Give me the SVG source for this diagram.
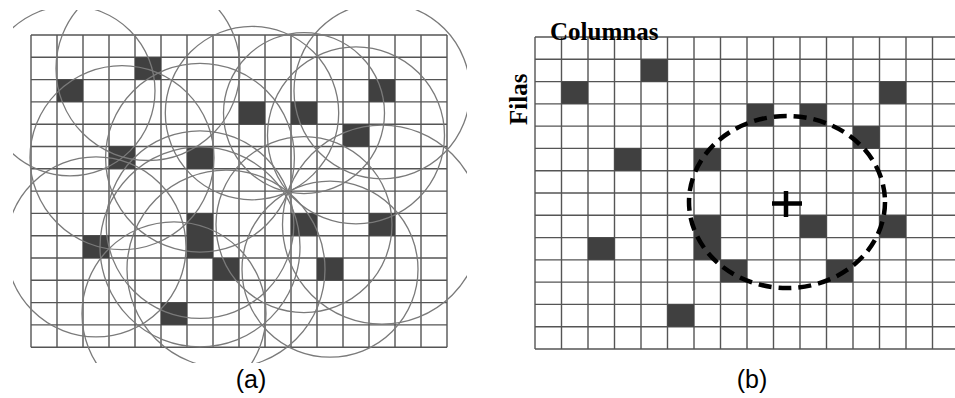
<svg xmlns="http://www.w3.org/2000/svg" width="955" height="398" viewBox="0 0 955 398">
<style>
.grid{fill:none;stroke:#555;stroke-width:1.4}
.cell{fill:#404040}
.circ{fill:none;stroke:#7a7a7a;stroke-width:1.3}
.lbl{font-family:"Liberation Sans",Arial,sans-serif;font-size:25px;fill:#000}
.axis{font-family:"Liberation Serif","Times New Roman",serif;font-weight:bold;font-size:25px;fill:#000}
</style>
<defs>
<clipPath id="clipA"><rect x="13" y="10" width="454" height="353"/></clipPath>
</defs>
<rect width="955" height="398" fill="#fff"/>

<g id="panel-a">
<g id="grid-a">
<path class="grid" d="M31 35V347.2M57 35V347.2M83 35V347.2M109 35V347.2M135 35V347.2M161 35V347.2M187 35V347.2M213 35V347.2M239 35V347.2M265 35V347.2M291 35V347.2M317 35V347.2M343 35V347.2M369 35V347.2M395 35V347.2M421 35V347.2M447 35V347.2"/>
<path class="grid" d="M31 35H447M31 57.3H447M31 79.6H447M31 101.9H447M31 124.2H447M31 146.5H447M31 168.8H447M31 191.1H447M31 213.4H447M31 235.7H447M31 258H447M31 280.3H447M31 302.6H447M31 324.9H447M31 347.2H447"/>
</g>
<g id="cells-a">
<rect class="cell" x="135" y="57.3" width="26" height="22.3"/>
<rect class="cell" x="57" y="79.6" width="26" height="22.3"/>
<rect class="cell" x="369" y="79.6" width="26" height="22.3"/>
<rect class="cell" x="239" y="101.9" width="26" height="22.3"/>
<rect class="cell" x="291" y="101.9" width="26" height="22.3"/>
<rect class="cell" x="343" y="124.2" width="26" height="22.3"/>
<rect class="cell" x="109" y="146.5" width="26" height="22.3"/>
<rect class="cell" x="187" y="146.5" width="26" height="22.3"/>
<rect class="cell" x="187" y="213.4" width="26" height="44.6"/>
<rect class="cell" x="291" y="213.4" width="26" height="22.3"/>
<rect class="cell" x="369" y="213.4" width="26" height="22.3"/>
<rect class="cell" x="83" y="235.7" width="26" height="22.3"/>
<rect class="cell" x="213" y="258" width="26" height="22.3"/>
<rect class="cell" x="317" y="258" width="26" height="22.3"/>
<rect class="cell" x="161" y="302.6" width="26" height="22.3"/>
</g>
<g id="circles-a" clip-path="url(#clipA)">
<circle class="circ" cx="148" cy="68.5" r="92"/>
<circle class="circ" cx="70" cy="90.8" r="85"/>
<circle class="circ" cx="382" cy="90.8" r="88"/>
<circle class="circ" cx="252" cy="113.1" r="86.7"/>
<circle class="circ" cx="304" cy="113.1" r="80.5"/>
<circle class="circ" cx="356" cy="135.4" r="88.5"/>
<circle class="circ" cx="122" cy="157.7" r="92"/>
<circle class="circ" cx="200" cy="157.7" r="94.4"/>
<circle class="circ" cx="200" cy="224.6" r="93.8"/>
<circle class="circ" cx="200" cy="246.9" r="100"/>
<circle class="circ" cx="304" cy="224.6" r="88"/>
<circle class="circ" cx="382" cy="224.6" r="99.5"/>
<circle class="circ" cx="96" cy="246.9" r="90"/>
<circle class="circ" cx="226" cy="269.2" r="99"/>
<circle class="circ" cx="330" cy="269.2" r="88"/>
<circle class="circ" cx="174" cy="313.8" r="92"/>
</g>
<text id="label-a" class="lbl" x="251" y="388" text-anchor="middle">(a)</text>
</g>

<g id="panel-b">
<g id="grid-b">
<path class="grid" d="M535 37V349M561.5 37V349M588 37V349M614.5 37V349M641 37V349M667.5 37V349M694 37V349M720.5 37V349M747 37V349M773.5 37V349M800 37V349M826.5 37V349M853 37V349M879.5 37V349M906 37V349M932.5 37V349"/>
<path class="grid" d="M535 37H955M535 59.3H955M535 81.6H955M535 103.9H955M535 126.1H955M535 148.4H955M535 170.7H955M535 193H955M535 215.3H955M535 237.6H955M535 259.9H955M535 282.1H955M535 304.4H955M535 326.7H955M535 349H955"/>
</g>
<g id="cells-b">
<rect class="cell" x="641" y="59.3" width="26.5" height="22.3"/>
<rect class="cell" x="561.5" y="81.6" width="26.5" height="22.3"/>
<rect class="cell" x="879.5" y="81.6" width="26.5" height="22.3"/>
<rect class="cell" x="747" y="103.9" width="26.5" height="22.3"/>
<rect class="cell" x="800" y="103.9" width="26.5" height="22.3"/>
<rect class="cell" x="853" y="126.1" width="26.5" height="22.3"/>
<rect class="cell" x="614.5" y="148.4" width="26.5" height="22.3"/>
<rect class="cell" x="694" y="148.4" width="26.5" height="22.3"/>
<rect class="cell" x="694" y="215.3" width="26.5" height="44.6"/>
<rect class="cell" x="800" y="215.3" width="26.5" height="22.3"/>
<rect class="cell" x="879.5" y="215.3" width="26.5" height="22.3"/>
<rect class="cell" x="588" y="237.6" width="26.5" height="22.3"/>
<rect class="cell" x="720.5" y="259.9" width="26.5" height="22.3"/>
<rect class="cell" x="826.5" y="259.9" width="26.5" height="22.3"/>
<rect class="cell" x="667.5" y="304.4" width="26.5" height="22.3"/>
</g>
<g id="detected-circle">
<ellipse cx="787" cy="202" rx="98" ry="86" fill="none" stroke="#000" stroke-width="4.5" stroke-dasharray="13 7"/>
<path d="M772 203.5H802M786 191V217" fill="none" stroke="#000" stroke-width="4.5"/>
</g>
<text id="columnas" class="axis" x="550" y="40">Columnas</text>
<text id="filas" class="axis" transform="translate(527,125) rotate(-90)">Filas</text>
<text id="label-b" class="lbl" x="752" y="388" text-anchor="middle">(b)</text>
</g>
</svg>
